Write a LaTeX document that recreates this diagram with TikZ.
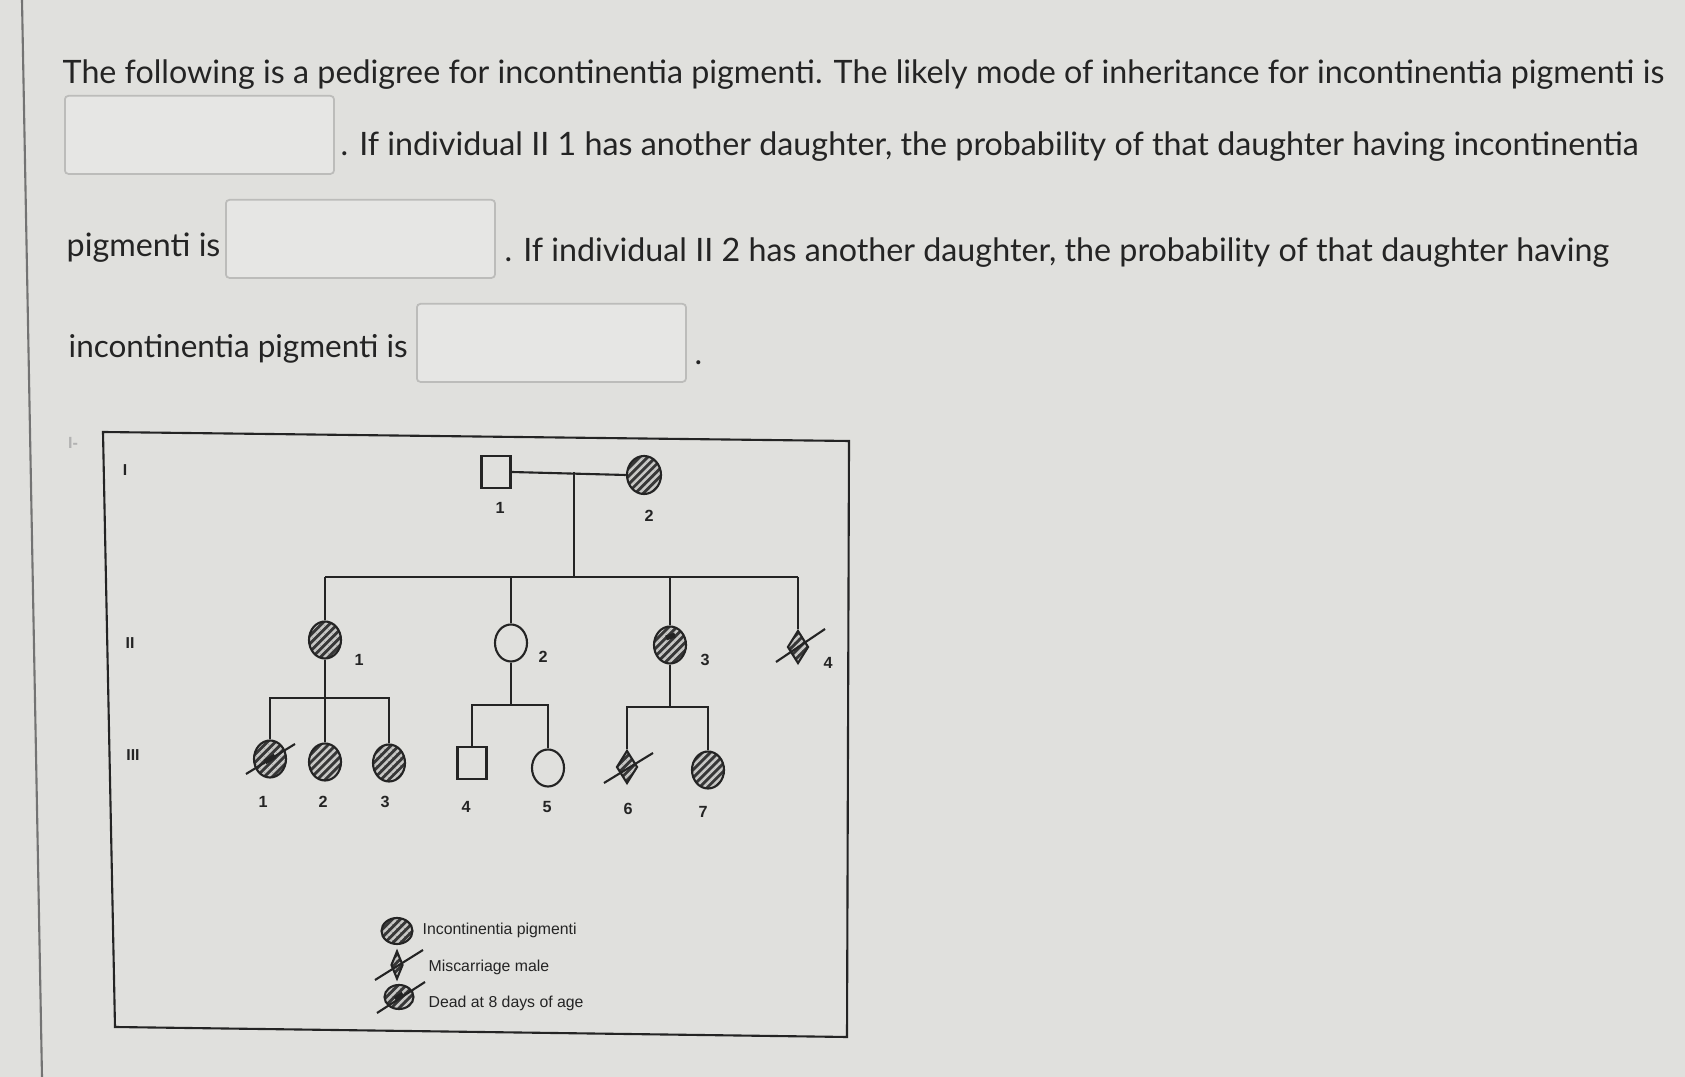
\documentclass[tikz,border=0pt]{standalone}
\usepackage{fontspec}
\setmainfont{Lato}
\newfontfamily\pedfont{Liberation Sans}
\usetikzlibrary{shapes.geometric,patterns,patterns.meta,positioning,calc}
\definecolor{pagebg}{RGB}{224,224,221}
\definecolor{ink}{RGB}{36,36,36}
\definecolor{boxline}{RGB}{188,188,186}
\definecolor{boxfill}{RGB}{230,230,228}
\definecolor{hatchdark}{RGB}{55,55,55}
\definecolor{hatchlight}{RGB}{200,200,198}

\tikzset{
  qtext/.style={font=\fontsize{9.17}{11}\selectfont, text=ink, inner sep=0pt},
  ansbox/.style={draw=boxline, fill=boxfill, rounded corners=1pt, line width=0.5pt,
                 minimum width=2.69cm, minimum height=0.78cm, inner sep=0pt},
  pedline/.style={draw=ink, line width=0.6pt},
  female/.style={ellipse, pedline, minimum width=0.32cm, minimum height=0.37cm, inner sep=0pt},
  male/.style={rectangle, pedline, minimum width=0.29cm, minimum height=0.32cm, inner sep=0pt},
  hatched/.style={preaction={fill=hatchdark},
                  pattern={Lines[angle=45, distance=1.6pt, line width=0.7pt]},
                  pattern color=hatchlight},
  affected/.style={female, hatched},
  miscarriage/.style={diamond, pedline, hatched, minimum width=0.21cm,
                      minimum height=0.33cm, inner sep=0pt},
  slash/.style={draw=ink, line width=0.6pt},
  num/.style={font=\pedfont\bfseries\fontsize{4.6}{5}\selectfont, text=ink, inner sep=0pt},
  gen/.style={font=\pedfont\bfseries\fontsize{4.5}{5}\selectfont, text=ink, inner sep=0pt},
  legtext/.style={font=\pedfont\fontsize{4.5}{5}\selectfont, text=ink, inner sep=0pt, anchor=west}
}

\begin{document}
\begin{tikzpicture}[x=0.01cm, y=-0.01cm]
  \useasboundingbox (0,0) rectangle (1685,1077);
  \fill[pagebg] (0,0) rectangle (1685,1077);
  \draw[black!55, line width=0.6pt] (22,0) -- (42,1077);

  % question text
  \node[qtext, anchor=base west] (q1) at (62,84) {The following is a pedigree for incontinentia pigmenti. The likely mode of inheritance for incontinentia pigmenti is};
  \node[ansbox, anchor=north west] (b1) at (64,95) {};
  \node[qtext, anchor=base west] (q2) at (340,156) {. If individual II 1 has another daughter, the probability of that daughter having incontinentia};
  \node[qtext, anchor=base west] (q3) at (66,257) {pigmenti is};
  \node[ansbox, anchor=north west] (b2) at (225,199) {};
  \node[qtext, anchor=base west] (q4) at (504,262) {. If individual II 2 has another daughter, the probability of that daughter having};
  \node[qtext, anchor=base west, font=\fontsize{8.95}{11}\selectfont] (q5) at (68,358) {incontinentia pigmenti is};
  \node[ansbox, anchor=north west] (b3) at (416,303) {};
  \node[qtext, anchor=base west] (q6) at (694,365) {.};

  % pedigree frame
  \node[num, text=gray!60] (mark) at (73,443) {I-};
  \draw[ink, line width=0.6pt] (103,432) -- (849,441) -- (847,1037) -- (115,1027) -- cycle;

  % generation labels
  \node[gen] (gI) at (125,470) {I};
  \node[gen] (gII) at (130,643) {II};
  \node[gen] (gIII) at (133,755) {III};

  % generation I
  \node[male] (i1) at (496,472) {};
  \node[affected, minimum width=0.34cm, minimum height=0.38cm] (i2) at (644,475) {};
  \node[num] (li1) at (500,508) {1};
  \node[num] (li2) at (649,516) {2};
  \coordinate (mid1) at (574,472);
  \coordinate (sib1) at (574,577);
  \draw[pedline] (i1.east) -- (i2.west);
  \draw[pedline] (mid1) -- (sib1);

  % generation II
  \node[affected] (ii1) at (325,640) {};
  \node[female] (ii2) at (511,643) {};
  \node[affected] (ii3) at (670,645) {};
  \node[miscarriage] (ii4) at (798,647) {};
  \draw[pedline] (ii1 |- sib1) -- (ii4 |- sib1);
  \foreach \p in {ii1,ii2,ii3,ii4}
    \draw[pedline] (\p |- sib1) -- (\p);
  \draw[ink, line width=1.4pt] ($(ii3)+(-4,-7)$) -- ($(ii3)+(5,-10)$);
  \draw[slash] ($(ii4)+(-22,15)$) -- ($(ii4)+(27,-18)$);
  \node[num] (lii1) at (359,660) {1};
  \node[num] (lii2) at (543,657) {2};
  \node[num] (lii3) at (705,660) {3};
  \node[num] (lii4) at (828,663) {4};

  % generation III
  \node[affected] (iii1) at (270,759) {};
  \node[affected] (iii2) at (325,762) {};
  \node[affected] (iii3) at (389,763) {};
  \node[male] (iii4) at (472,763) {};
  \node[female] (iii5) at (548,768) {};
  \node[miscarriage] (iii6) at (627,767) {};
  \node[affected] (iii7) at (708,770) {};
  \coordinate (sib2) at (325,698);
  \coordinate (sib3) at (511,705);
  \coordinate (sib4) at (670,707);
  \draw[pedline] (ii1) -- (iii2);
  \draw[pedline] (iii1) -- (iii1 |- sib2) -- (iii3 |- sib2) -- (iii3);
  \draw[pedline] (ii2) -- (sib3);
  \draw[pedline] (iii4) -- (iii4 |- sib3) -- (iii5 |- sib3) -- (iii5);
  \draw[pedline] (ii3) -- (sib4);
  \draw[pedline] (iii6) -- (iii6 |- sib4) -- (iii7 |- sib4) -- (iii7);
  \draw[slash] ($(iii1)+(-24,15)$) -- ($(iii1)+(25,-15)$);
  \draw[ink, line width=1.4pt] ($(iii1)+(-5,3)$) -- ($(iii1)+(5,-3)$);
  \draw[slash] ($(iii6)+(-23,16)$) -- ($(iii6)+(26,-14)$);
  \node[num] (liii1) at (263,802) {1};
  \node[num] (liii2) at (323,802) {2};
  \node[num] (liii3) at (385,802) {3};
  \node[num] (liii4) at (466,807) {4};
  \node[num] (liii5) at (547,807) {5};
  \node[num] (liii6) at (628,809) {6};
  \node[num] (liii7) at (703,812) {7};

  % legend
  \node[affected, minimum width=0.31cm, minimum height=0.26cm] (lg1) at (397,931) {};
  \node[legtext] (lt1) at (422,930) {Incontinentia pigmenti};
  \node[miscarriage, minimum width=0.12cm, minimum height=0.28cm] (lg2) at (397,965) {};
  \draw[slash] ($(lg2)+(-22,15)$) -- ($(lg2)+(26,-15)$);
  \node[legtext] (lt2) at (428,967) {Miscarriage male};
  \node[affected, minimum width=0.29cm, minimum height=0.24cm] (lg3) at (399,997) {};
  \draw[slash] ($(lg3)+(-22,16)$) -- ($(lg3)+(26,-15)$);
  \draw[ink, line width=1.4pt] ($(lg3)+(-4,2)$) -- ($(lg3)+(4,-3)$);
  \node[legtext] (lt3) at (428,1003) {Dead at 8 days of age};
\end{tikzpicture}
\end{document}
